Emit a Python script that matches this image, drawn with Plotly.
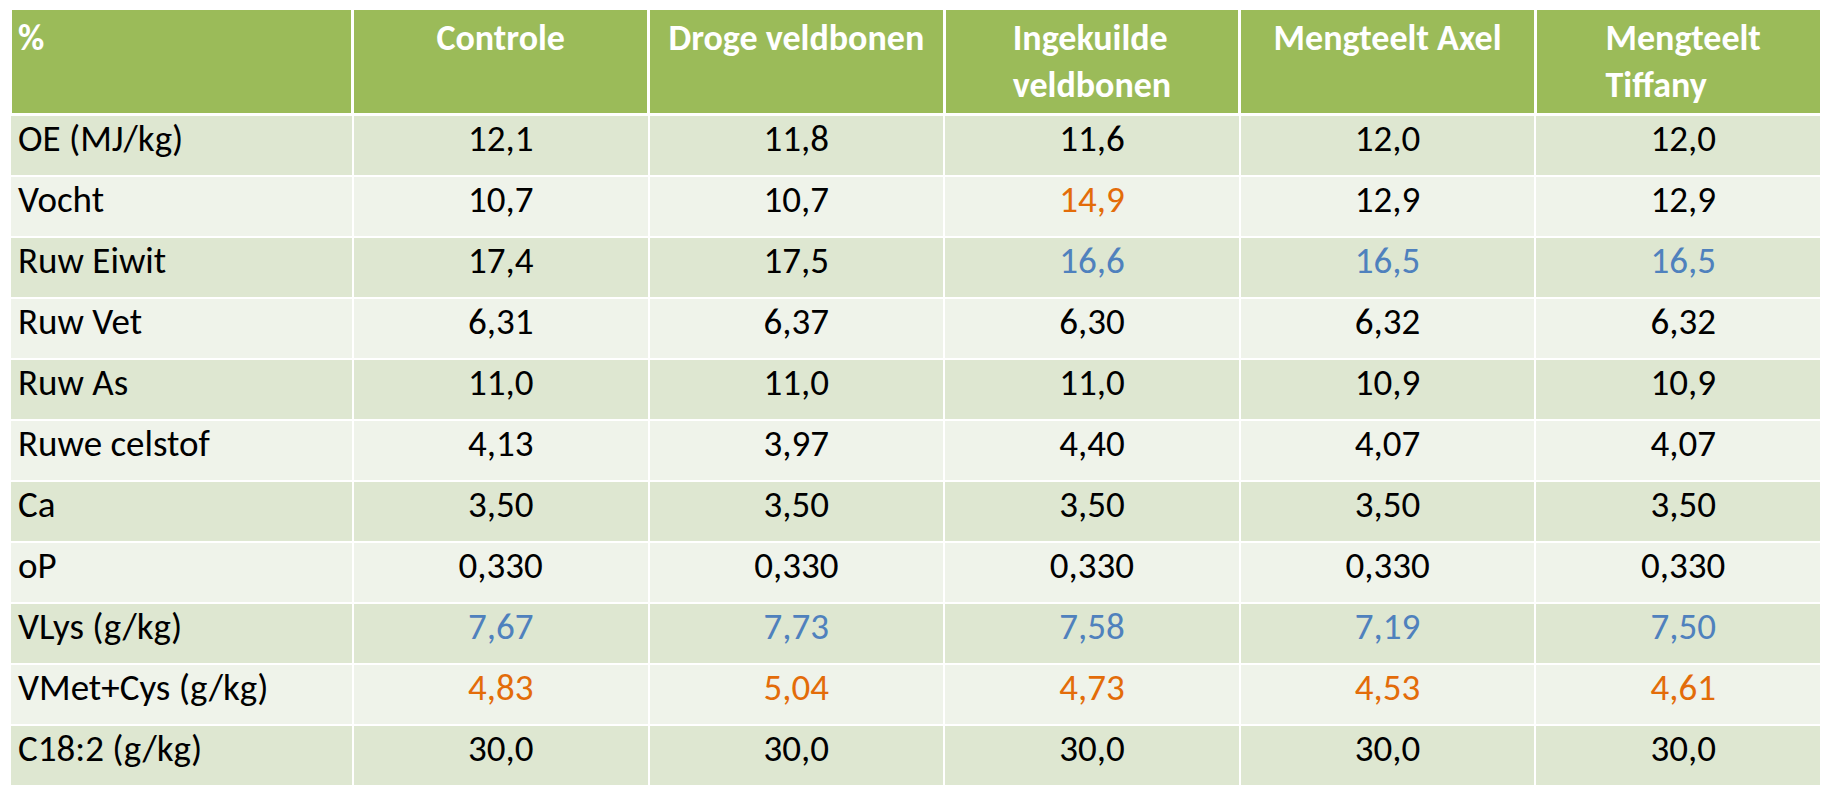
import plotly.graph_objects as go

W, H = 1828, 795

# ---- data ----
row_labels = ["OE (MJ/kg)", "Vocht", "Ruw Eiwit", "Ruw Vet", "Ruw As", "Ruwe celstof",
              "Ca", "oP", "VLys (g/kg)", "VMet+Cys (g/kg)", "C18:2 (g/kg)"]
headers = ["%", "Controle", "Droge veldbonen", "Ingekuilde<br>veldbonen",
           "Mengteelt Axel", "Mengteelt<br>Tiffany"]
controle = ["12,1", "10,7", "17,4", "6,31", "11,0", "4,13", "3,50", "0,330", "7,67", "4,83", "30,0"]
droge = ["11,8", "10,7", "17,5", "6,37", "11,0", "3,97", "3,50", "0,330", "7,73", "5,04", "30,0"]
ingekuild = ["11,6", "14,9", "16,6", "6,30", "11,0", "4,40", "3,50", "0,330", "7,58", "4,73", "30,0"]
axel = ["12,0", "12,9", "16,5", "6,32", "10,9", "4,07", "3,50", "0,330", "7,19", "4,53", "30,0"]
tiffany = ["12,0", "12,9", "16,5", "6,32", "10,9", "4,07", "3,50", "0,330", "7,50", "4,61", "30,0"]
# highlight codes per value column: k = black, o = orange, b = blue
hl_controle = list("kkkkkkkkbok")
hl_droge = list("kkkkkkkkbok")
hl_ingekuild = list("kobkkkkkbok")
hl_axel = list("kkbkkkkkbok")
hl_tiffany = list("kkbkkkkkbok")

# ---- styling ----
cmap = {"k": "#000000", "o": "#E36C09", "b": "#4F81BD"}
HEADER_FILL = "#9BBB59"
BAND1 = "#DEE7D1"
BAND2 = "#EFF3EA"
FONT = "Calibri, Carlito, Lato, sans-serif"

n = len(row_labels)
row_fill = [BAND1 if i % 2 == 0 else BAND2 for i in range(n)]

values_cols = [row_labels, controle, droge, ingekuild, axel, tiffany]
hl_cols = [["k"] * n, hl_controle, hl_droge, hl_ingekuild, hl_axel, hl_tiffany]
font_colors = [[cmap[c] for c in col] for col in hl_cols]

fig = go.Figure(go.Table(
    domain=dict(x=[2 / W, 1823 / W], y=[0, 1]),
    columnwidth=[341, 294, 294, 294, 294, 294],
    header=dict(
        values=[f"<b>{h}</b>" for h in headers],
        fill_color=HEADER_FILL,
        line=dict(color="white", width=3),
        align=["left"] + ["center"] * 5,
        font=dict(family=FONT, size=36, color="white"),
        height=100,
    ),
    cells=dict(
        values=values_cols,
        fill_color=[row_fill] * 6,
        line=dict(color="white", width=2),
        align=["left"] + ["center"] * 5,
        font=dict(family=FONT, size=37, color=font_colors),
        height=61,
    ),
))

fig.update_layout(
    width=W, height=H,
    margin=dict(l=0, r=0, t=0, b=0),
    paper_bgcolor="white",
)

fig.write_html("out.html")
